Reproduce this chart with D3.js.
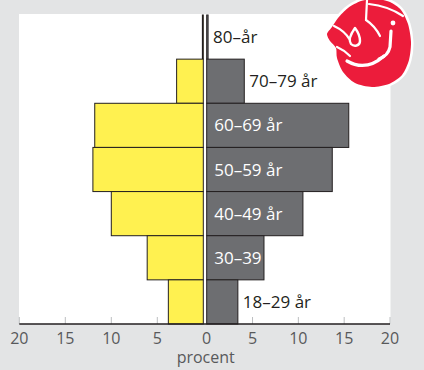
<!DOCTYPE html>
<html>
<head>
<meta charset="utf-8">
<script src="https://cdn.jsdelivr.net/npm/d3@7"></script>
<style>
  body { margin: 0; background: #e3e4e5; }
  svg { display: block; font-family: "Open Sans", sans-serif; }
</style>
</head>
<body>
<script>
// age groups, top to bottom
const ageGroups = ["80–år", "70–79 år", "60–69 år", "50–59 år", "40–49 år", "30–39", "18–29 år"];
// percent, left side (yellow) and right side (grey)
const leftValues = [0.1, 2.9, 11.8, 12.0, 10.0, 6.1, 3.8];
const rightValues = [0.15, 4.1, 15.5, 13.7, 10.5, 6.25, 3.4];
const leftTicks = [20, 15, 10, 5];
const rightTicks = [0, 5, 10, 15, 20];
const axisTitle = "procent";

function main() {
  var width = 424,
    height = 370;

  var svg = d3
    .select("body")
    .append("svg")
    .attr("width", width)
    .attr("height", height);

  // scales
  var xLeft = d3.scaleLinear().domain([20, 0]).range([19.3, 203.3]);
  var xRight = d3.scaleLinear().domain([0, 20]).range([206.7, 390]);
  var y = d3.scaleBand().domain(ageGroups).range([15, 324]).padding(0);

  // white panel
  svg
    .append("rect")
    .attr("x", 19)
    .attr("y", 14)
    .attr("width", 371.5)
    .attr("height", 310)
    .attr("fill", "#ffffff");

  // yellow bars
  svg
    .append("g")
    .selectAll("rect")
    .data(leftValues)
    .enter()
    .append("rect")
    .attr("x", (d) => xLeft(d))
    .attr("y", (d, i) => y(ageGroups[i]))
    .attr("width", (d) => xLeft(0) - xLeft(d))
    .attr("height", y.bandwidth())
    .attr("fill", "#fff150")
    .attr("stroke", "#231f20")
    .attr("stroke-width", 1);

  // grey bars
  svg
    .append("g")
    .selectAll("rect")
    .data(rightValues)
    .enter()
    .append("rect")
    .attr("x", xRight(0))
    .attr("y", (d, i) => y(ageGroups[i]))
    .attr("width", (d) => xRight(d) - xRight(0))
    .attr("height", y.bandwidth())
    .attr("fill", "#6d6e71")
    .attr("stroke", "#231f20")
    .attr("stroke-width", 1);

  // age labels: inside wide bars, outside narrow ones
  svg
    .append("g")
    .selectAll("text")
    .data(rightValues)
    .enter()
    .append("text")
    .attr("x", (d) => (d > 5 ? xRight(0) + 7.5 : xRight(d) + 5))
    .attr("y", (d, i) => y(ageGroups[i]) + y.bandwidth() / 2 + 6)
    .attr("fill", (d) => (d > 5 ? "#ffffff" : "#231f20"))
    .style("font-size", "17px")
    .text((d, i) => ageGroups[i]);

  // axis
  var axis = svg.append("g");
  axis
    .selectAll("line.tick")
    .data(leftTicks)
    .enter()
    .append("line")
    .attr("x1", (d) => xLeft(d))
    .attr("x2", (d) => xLeft(d))
    .attr("y1", 317)
    .attr("y2", 324)
    .attr("stroke", "#bcbec0");
  axis
    .selectAll("line.rtick")
    .data(rightTicks.slice(1))
    .enter()
    .append("line")
    .attr("x1", (d) => xRight(d))
    .attr("x2", (d) => xRight(d))
    .attr("y1", 317)
    .attr("y2", 324)
    .attr("stroke", "#bcbec0");
  axis
    .append("line")
    .attr("x1", xLeft(20))
    .attr("x2", xRight(20))
    .attr("y1", 324)
    .attr("y2", 324)
    .attr("stroke", "#231f20")
    .attr("stroke-width", 1.5);

  axis
    .selectAll("text.l")
    .data(leftTicks)
    .enter()
    .append("text")
    .attr("x", (d) => xLeft(d))
    .attr("y", 344)
    .attr("text-anchor", "middle")
    .attr("fill", "#58595b")
    .style("font-size", "16px")
    .text((d) => d);
  axis
    .selectAll("text.r")
    .data(rightTicks)
    .enter()
    .append("text")
    .attr("x", (d) => xRight(d))
    .attr("y", 344)
    .attr("text-anchor", "middle")
    .attr("fill", "#58595b")
    .style("font-size", "16px")
    .text((d) => d);

  svg
    .append("text")
    .attr("x", xRight(0) - 1)
    .attr("y", 363)
    .attr("text-anchor", "middle")
    .attr("fill", "#58595b")
    .style("font-size", "16px")
    .text(axisTitle);

  // rose logo (decoration)
  var logo = svg.append("g");
  var rosePts = [
    [376, -1], [390, 2], [401, 10], [408, 24], [411, 42], [409, 60],
    [402, 75], [389, 84], [372, 87], [355, 83], [343, 72], [337, 58],
    [336, 48], [330, 41], [327, 34], [332, 27], [338, 18], [348, 8], [361, 1]
  ];
  var roseLine = d3.line().curve(d3.curveCardinalClosed.tension(0.2));
  logo
    .append("path")
    .attr("d", roseLine(rosePts))
    .attr("fill", "#ec1c3b")
    .attr("stroke", "#ffffff")
    .attr("stroke-width", 5);
  logo
    .append("path")
    .attr("d", roseLine(rosePts))
    .attr("fill", "#ec1c3b");

  var white = (d, w) =>
    logo
      .append("path")
      .attr("d", d)
      .attr("fill", "none")
      .attr("stroke", "#ffffff")
      .attr("stroke-width", w)
      .attr("stroke-linecap", "round")
      .attr("stroke-linejoin", "round");
  // petal separations
  white("M367,0 L366,20", 2.2);
  white("M369,4 Q388,6 403,16", 2.2);
  white("M334,26 Q345,31 350,40", 2.2);
  white("M337,47 Q344,50 350,56", 2.2);
  white("M366,20 Q375,26 380,36", 2.2);
  // smile, stem and dot
  white("M347,61 Q366,72 384,56", 3.2);
  white("M391,31 L390,47 Q388,56 379,59", 3.2);
  white("M355,28 C350,35 348,40 351,44 C354,47 360,46 360,41 C360,36 358,32 355,28 Z", 2.4);
  logo
    .append("circle")
    .attr("cx", 393)
    .attr("cy", 23)
    .attr("r", 2.4)
    .attr("fill", "#ffffff");
}
main();
</script>
</body>
</html>
